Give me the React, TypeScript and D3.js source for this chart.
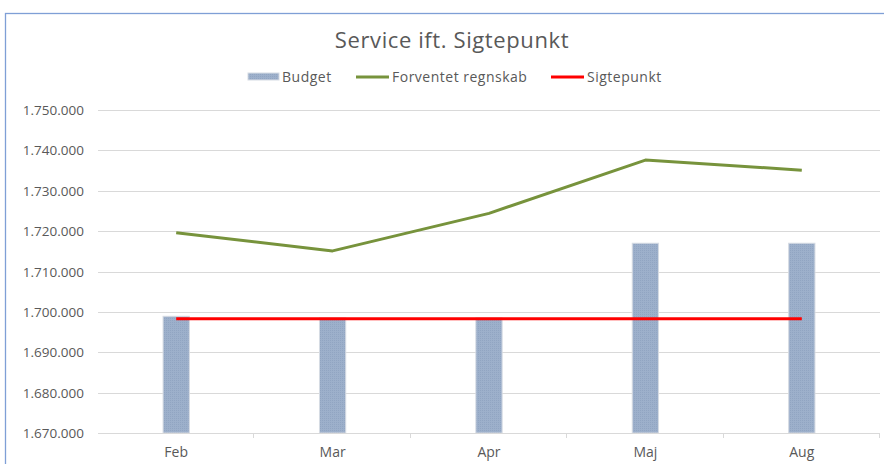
import React, { useEffect, useRef } from 'react';
import * as d3 from 'd3';

// chart data
const months = ['Feb', 'Mar', 'Apr', 'Maj', 'Aug'];
const budget = [1698900, 1698500, 1698500, 1717000, 1717000];
const forventet = [1719600, 1715100, 1724400, 1737600, 1735100];
const sigtepunkt = [1698300, 1698300, 1698300, 1698300, 1698300];
const yTicks = [1670000, 1680000, 1690000, 1700000, 1710000, 1720000, 1730000, 1740000, 1750000];

const W = 884;
const H = 464;
const FONT = "'Open Sans', sans-serif";
const TXT = '#595959';

const danish = d3.formatLocale({ decimal: ',', thousands: '.', grouping: [3], currency: ['', ' kr.'] });
const fmt = danish.format(',.0f');

export default function App() {
  const ref = useRef<SVGSVGElement>(null);

  useEffect(() => {
    const svg = d3.select(ref.current);
    svg.selectAll('*').remove();

    const margin = { top: 110, right: 4, bottom: 31, left: 98 };
    const innerW = W - margin.left - margin.right;
    const innerH = H - margin.top - margin.bottom;

    // chart frame
    svg.append('rect')
      .attr('x', 5.5).attr('y', 13.5)
      .attr('width', W).attr('height', H)
      .attr('fill', '#fff')
      .attr('stroke', '#7f9fd6').attr('stroke-width', 1.3);

    svg.append('text')
      .attr('x', 452).attr('y', 48)
      .attr('text-anchor', 'middle')
      .attr('font-family', FONT).attr('font-size', 22)
      .attr('letter-spacing', 0.6)
      .attr('fill', TXT)
      .text('Service ift. Sigtepunkt');

    const x = d3.scaleBand().domain(months).range([0, innerW]).padding(0);
    const y = d3.scaleLinear().domain([1670000, 1750000]).range([innerH, 0]);

    const g = svg.append('g').attr('transform', `translate(${margin.left},${margin.top})`);

    // gridlines
    g.selectAll('line.grid')
      .data(yTicks.slice(1))
      .enter().append('line')
      .attr('class', 'grid')
      .attr('x1', 0).attr('x2', innerW)
      .attr('y1', d => Math.round(y(d)) + 0.5).attr('y2', d => Math.round(y(d)) + 0.5)
      .attr('stroke', '#d9d9d9').attr('stroke-width', 1);

    // y labels
    g.selectAll('text.ylab')
      .data(yTicks)
      .enter().append('text')
      .attr('class', 'ylab')
      .attr('x', -14).attr('y', d => y(d) + 5)
      .attr('text-anchor', 'end')
      .attr('font-family', FONT).attr('font-size', 13.5)
      .attr('fill', TXT)
      .text(d => fmt(d));

    // budget bars
    const defs = svg.append('defs');
    const pat = defs.append('pattern')
      .attr('id', 'budgetPat').attr('patternUnits', 'userSpaceOnUse')
      .attr('width', 2).attr('height', 2);
    pat.append('rect').attr('width', 2).attr('height', 2).attr('fill', '#9db0cb');
    pat.append('rect').attr('width', 1).attr('height', 1).attr('fill', '#91a5c2');

    const barW = x.bandwidth() * 0.168;
    g.selectAll('rect.bar')
      .data(budget)
      .enter().append('rect')
      .attr('class', 'bar')
      .attr('x', (d, i) => x(months[i])! + x.bandwidth() / 2 - barW / 2)
      .attr('y', d => y(d))
      .attr('width', barW)
      .attr('height', d => innerH - y(d))
      .attr('fill', 'url(#budgetPat)')
      .attr('stroke', '#d6dbe3').attr('stroke-width', 1);

    // x axis
    const xAxis = g.append('g').attr('transform', `translate(0,${innerH})`);
    xAxis.append('line')
      .attr('x1', 0).attr('x2', innerW).attr('y1', 0.5).attr('y2', 0.5)
      .attr('stroke', '#d9d9d9').attr('stroke-width', 1.2);
    xAxis.selectAll('line.tick')
      .data(months.slice(1).concat(['end']))
      .enter().append('line')
      .attr('class', 'tick')
      .attr('x1', (d, i) => Math.round(x.bandwidth() * (i + 1)) - 0.5)
      .attr('x2', (d, i) => Math.round(x.bandwidth() * (i + 1)) - 0.5)
      .attr('y1', 0).attr('y2', 5)
      .attr('stroke', '#d9d9d9');
    xAxis.selectAll('text')
      .data(months)
      .enter().append('text')
      .attr('x', d => x(d)! + x.bandwidth() / 2)
      .attr('y', 24)
      .attr('text-anchor', 'middle')
      .attr('font-family', FONT).attr('font-size', 14)
      .attr('fill', TXT)
      .text(d => d);

    const cx = (i: number) => x(months[i])! + x.bandwidth() / 2;

    const line = d3.line<number>().x((d, i) => cx(i)).y(d => y(d));

    g.append('path')
      .datum(forventet)
      .attr('d', line)
      .attr('fill', 'none')
      .attr('stroke', '#77933c').attr('stroke-width', 3)
      .attr('stroke-linejoin', 'round');

    g.append('path')
      .datum(sigtepunkt)
      .attr('d', line)
      .attr('fill', 'none')
      .attr('stroke', '#ff0000').attr('stroke-width', 3);

    // legend
    const leg = svg.append('g')
      .attr('font-family', FONT).attr('font-size', 14)
      .attr('letter-spacing', 0.5).attr('fill', TXT);
    leg.append('rect')
      .attr('x', 248).attr('y', 73).attr('width', 31).attr('height', 7)
      .attr('fill', 'url(#budgetPat)').attr('stroke', '#d6dbe3');
    leg.append('text').attr('x', 282).attr('y', 82).text('Budget');
    leg.append('line')
      .attr('x1', 356).attr('x2', 389).attr('y1', 77).attr('y2', 77)
      .attr('stroke', '#77933c').attr('stroke-width', 3);
    leg.append('text').attr('x', 392).attr('y', 82).text('Forventet regnskab');
    leg.append('line')
      .attr('x1', 551).attr('x2', 584).attr('y1', 77).attr('y2', 77)
      .attr('stroke', '#ff0000').attr('stroke-width', 3);
    leg.append('text').attr('x', 587).attr('y', 82).text('Sigtepunkt');
  }, []);

  return (
    <svg
      ref={ref}
      width={W}
      height={H}
      style={{ position: 'absolute', left: 0, top: 0, background: '#fff' }}
    />
  );
}
